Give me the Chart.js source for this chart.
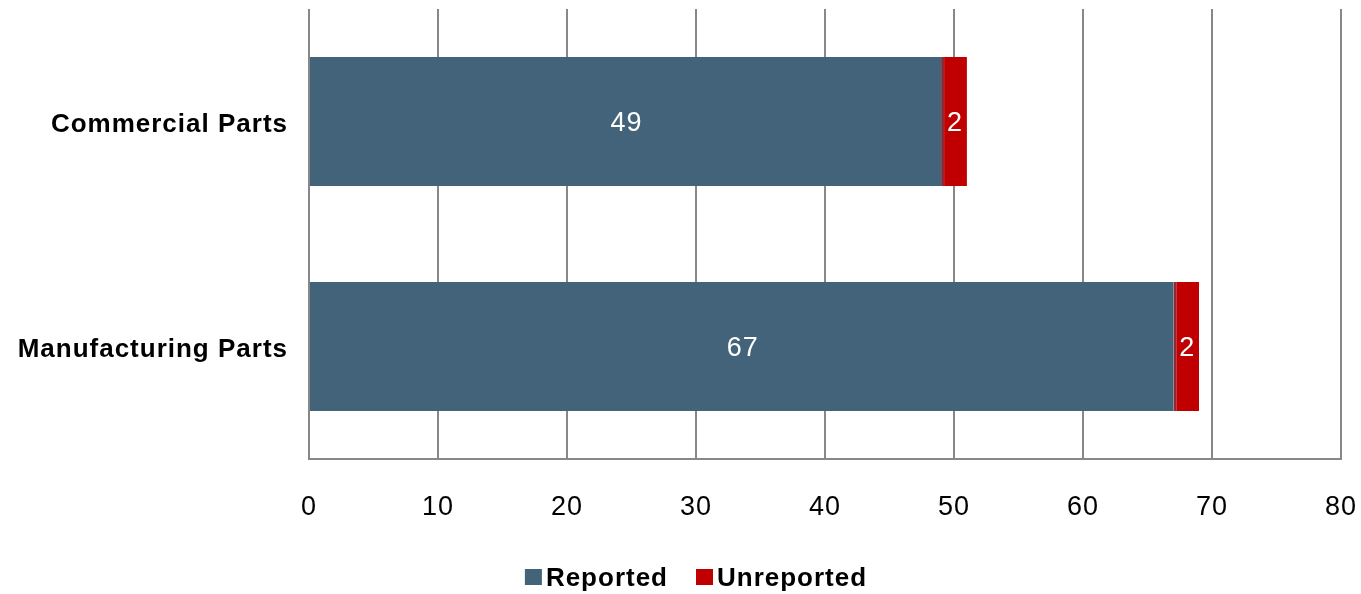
<!DOCTYPE html>
<html>
<head>
<meta charset="utf-8">
<script src="https://cdn.jsdelivr.net/npm/chart.js@4/dist/chart.umd.min.js"></script>
<style>
html,body{margin:0;padding:0;background:#fff;}
#wrap{width:1361px;height:594px;position:relative;}
</style>
</head>
<body>
<div id="wrap"><canvas id="c"></canvas></div>
<script>
const categories = ["Commercial Parts", "Manufacturing Parts"];
const reported = [49, 67];
const unreported = [2, 2];
const xTicks = [0, 10, 20, 30, 40, 50, 60, 70, 80];
const seriesNames = ["Reported", "Unreported"];
const seriesColors = ["#426379", "#c00000"];

const FONT = "'Liberation Sans', Arial, sans-serif";
const SPACING = '1px';

const spacingPlugin = {
  id: 'spacing',
  beforeUpdate(chart) { chart.ctx.letterSpacing = SPACING; },
  beforeLayout(chart) { chart.ctx.letterSpacing = SPACING; },
  beforeDraw(chart) { chart.ctx.letterSpacing = SPACING; }
};

const labelPlugin = {
  id: 'barLabels',
  afterDatasetsDraw(chart) {
    const ctx = chart.ctx;
    ctx.save();
    ctx.letterSpacing = SPACING;
    ctx.fillStyle = '#ffffff';
    ctx.font = '27px ' + FONT;
    ctx.textAlign = 'center';
    ctx.textBaseline = 'middle';
    chart.data.datasets.forEach((ds, di) => {
      const meta = chart.getDatasetMeta(di);
      meta.data.forEach((bar, i) => {
        const p = bar.getProps(['x', 'base', 'y'], true);
        ctx.fillText(String(ds.data[i]), (p.x + p.base) / 2 + 1, p.y + 2);
      });
    });
    ctx.restore();
  }
};

const legendPlugin = {
  id: 'customLegend',
  afterDraw(chart) {
    const ctx = chart.ctx;
    ctx.save();
    ctx.letterSpacing = SPACING;
    ctx.font = 'bold 26px ' + FONT;
    ctx.textBaseline = 'middle';
    ctx.textAlign = 'left';
    const boxW = 17, boxH = 16, gap = 4, itemGap = 28;
    const items = chart.data.datasets.map(ds => ({ text: ds.label, color: ds.backgroundColor, w: ctx.measureText(ds.label).width }));
    let total = 0;
    items.forEach((it, i) => { total += boxW + gap + it.w + (i < items.length - 1 ? itemGap : 0); });
    const cy = 578;
    let x = 696 - total / 2;
    items.forEach(it => {
      ctx.fillStyle = it.color;
      ctx.fillRect(x, cy - 9, boxW, boxH);
      x += boxW + gap;
      ctx.fillStyle = '#000';
      ctx.fillText(it.text, x, cy + 1);
      x += it.w + itemGap;
    });
    ctx.restore();
  }
};

const canvas = document.getElementById('c');

function zeroPad(axis) {
  axis.paddingLeft = 0; axis.paddingRight = 0; axis.paddingTop = 0; axis.paddingBottom = 0;
}

new Chart(canvas, {
  type: 'bar',
  data: {
    labels: categories,
    datasets: [
      { label: seriesNames[0], data: reported, backgroundColor: seriesColors[0], borderWidth: 0 },
      { label: seriesNames[1], data: unreported, backgroundColor: seriesColors[1],
        borderColor: '#8c2a36', borderSkipped: false,
        borderWidth: { left: 3, right: 0, top: 0, bottom: 0 } }
    ]
  },
  options: {
    indexAxis: 'y',
    responsive: true,
    maintainAspectRatio: false,
    animation: false,
    devicePixelRatio: 1,
    layout: { padding: { top: 9, right: 20, bottom: 55, left: 0 } },
    datasets: { bar: { barPercentage: 0.573, categoryPercentage: 1 } },
    scales: {
      x: {
        stacked: true,
        min: 0, max: 80,
        afterBuildTicks(axis) { axis.ticks = xTicks.map(v => ({ value: v })); },
        afterFit(axis) { axis.height = 80; zeroPad(axis); },
        grid: { color: '#888888', lineWidth: 2, drawTicks: false },
        border: { display: true, color: '#888888', width: 2 },
        ticks: { padding: 32, color: '#000', maxRotation: 0, font: { family: FONT, size: 27 } }
      },
      y: {
        stacked: true,
        afterFit(axis) { axis.width = 309; zeroPad(axis); },
        grid: { display: false, drawTicks: false },
        border: { display: false },
        ticks: { padding: 21, labelOffset: 3, color: '#000', font: { family: FONT, size: 26, weight: 'bold' } }
      }
    },
    plugins: {
      legend: { display: false },
      tooltip: { enabled: false }
    }
  },
  plugins: [spacingPlugin, labelPlugin, legendPlugin]
});
</script>
</body>
</html>
